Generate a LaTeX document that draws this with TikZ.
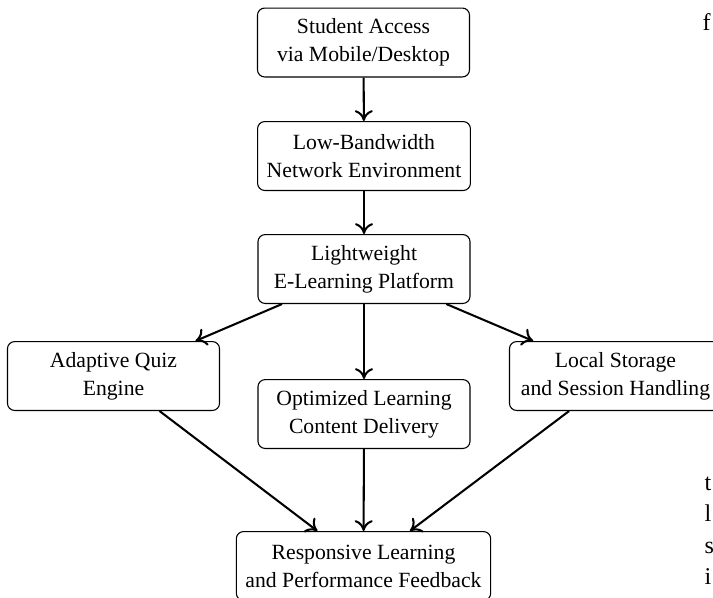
\documentclass[tikz,border=0pt]{standalone}
\usepackage{fontspec}
\setmainfont{Liberation Serif}
\usetikzlibrary{arrows.meta}
\begin{document}
\begin{tikzpicture}[x=0.415pt,y=-0.415pt,
  box/.style={draw, line width=0.45pt, rounded corners=3pt, align=center,
    minimum width=88pt, minimum height=28.6pt, inner xsep=3.8pt, inner ysep=3.3pt,
    font=\fontsize{9}{11.6}\selectfont},
  arr/.style={-{Computer Modern Rightarrow[length=4.5pt,width=7.5pt]}, line width=0.85pt},
  frag/.style={anchor=base west, inner sep=0pt, font=\fontsize{10}{12}\selectfont}]
\useasboundingbox (0,0) rectangle (713,597);
\clip (0,0) rectangle (713,597);
\node[box] (n1) at (363.5,42.5) {Student Access\\via Mobile/Desktop};
\node[box] (n2) at (364,156) {Low-Bandwidth\\Network Environment};
\node[box] (n3) at (364,269) {Lightweight\\E-Learning Platform};
\node[box] (ad) at (113.5,376) {Adaptive Quiz\\Engine};
\node[box] (opt) at (364,414) {Optimized Learning\\Content Delivery};
\node[box] (loc) at (615.5,376) {Local Storage\\and Session Handling};
\node[box] (resp) at (363.5,566) {Responsive Learning\\and Performance Feedback};
\draw[arr] (n1) -- (n2);
\draw[arr] (n2) -- (n3);
\draw[arr] (n3) -- (ad);
\draw[arr] (n3) -- (opt);
\draw[arr] (n3) -- (loc);
\draw[arr] (ad) -- (resp);
\draw[arr] (opt) -- (resp);
\draw[arr] (loc) -- (resp);
\node[frag] (f1) at (702,30) {f};
\node[frag] (f2) at (704,490) {t};
\node[frag] (f3) at (704,521) {l};
\node[frag] (f4) at (704,553) {s};
\node[frag] (f5) at (704,584) {i};
\end{tikzpicture}
\end{document}
